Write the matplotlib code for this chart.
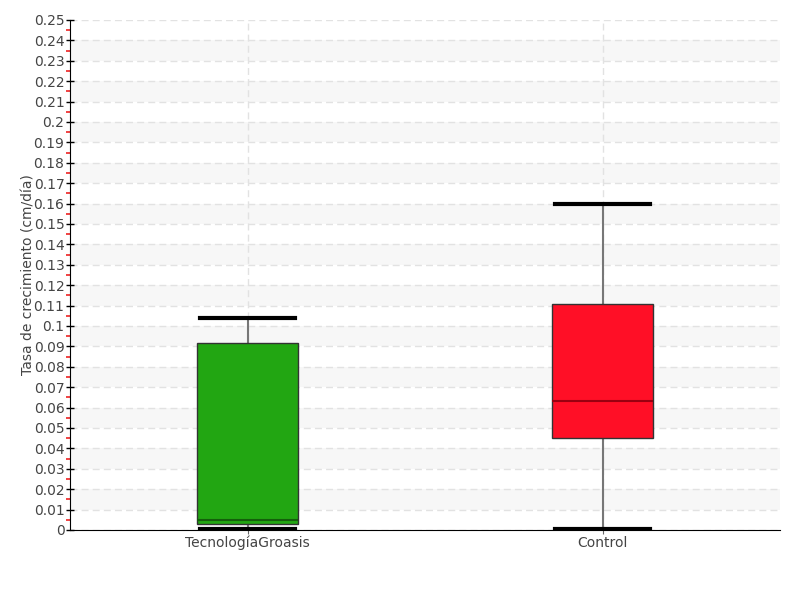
import matplotlib
matplotlib.use("Agg")
import matplotlib.pyplot as plt
from matplotlib.ticker import MultipleLocator, FuncFormatter
import numpy as np

categories = ["TecnologíaGroasis", "Control"]
whislo = [0.0003, 0.0006]
q1 = [0.003, 0.0452]
median = [0.0048, 0.0634]
q3 = [0.0917, 0.1106]
whishi = [0.104, 0.160]
box_colors = ["#22a612", "#ff0f26"]
median_colors = ["#145f0b", "#9a0010"]

plt.rcParams['font.family'] = ['DejaVu Sans']
fig = plt.figure(figsize=(8, 6), dpi=100)
ax = fig.add_axes([0.0875, 0.1167, 0.8875, 0.85])

# alternating bands
for k in range(1, 25, 2):
    ax.axhspan(k / 100, (k + 1) / 100, color="#f7f7f7", zorder=0, lw=0)

stats = []
for i in range(len(categories)):
    stats.append(dict(label=categories[i], whislo=whislo[i], q1=q1[i], med=median[i],
                      q3=q3[i], whishi=whishi[i], fliers=[]))

bp = ax.bxp(stats, positions=range(len(categories)), widths=0.282, patch_artist=True,
            showfliers=False,
            whiskerprops=dict(color="#777777", lw=1.5),
            capprops=dict(color="black", lw=3),
            capwidths=0.27)
for i, b in enumerate(bp['boxes']):
    b.set_facecolor(box_colors[i])
    b.set_edgecolor("#333333")
    b.set_linewidth(1)
    b.set_zorder(3)
for i, m in enumerate(bp['medians']):
    m.set_color(median_colors[i])
    m.set_linewidth(1.5)
    m.set_zorder(4)

ax.set_xlim(-0.5, 1.5)
ax.set_ylim(0, 0.25)
ax.yaxis.set_major_locator(MultipleLocator(0.01))
ax.yaxis.set_minor_locator(MultipleLocator(0.005))
ax.yaxis.set_major_formatter(FuncFormatter(lambda v, p: ("%.2f" % v).rstrip('0').rstrip('.') if v != 0 else "0"))
ax.tick_params(axis='y', which='major', direction='inout', length=6, width=1, color='black',
               labelsize=10, labelcolor='#444444', pad=1)
ax.tick_params(axis='y', which='minor', direction='out', length=3, width=1.2, color='#ee2222')
ax.tick_params(axis='x', which='major', direction='inout', length=6, color='#666666',
               labelsize=10, labelcolor='#444444', pad=1)

ax.grid(axis='y', which='major', color='#e2e2e2', linestyle=(0, (5, 3)), lw=1)
ax.grid(axis='x', which='major', color='#e2e2e2', linestyle=(0, (5, 3)), lw=1)
ax.set_axisbelow(True)
for s in ['top', 'right']:
    ax.spines[s].set_visible(False)
ax.spines['left'].set_color('black')
ax.spines['bottom'].set_color('black')

ax.set_ylabel("Tasa de crecimiento (cm/día)", fontsize=10, color='#444444')
ax.yaxis.set_label_coords(-0.049, 0.5)

fig.savefig("out.png", dpi=100)
